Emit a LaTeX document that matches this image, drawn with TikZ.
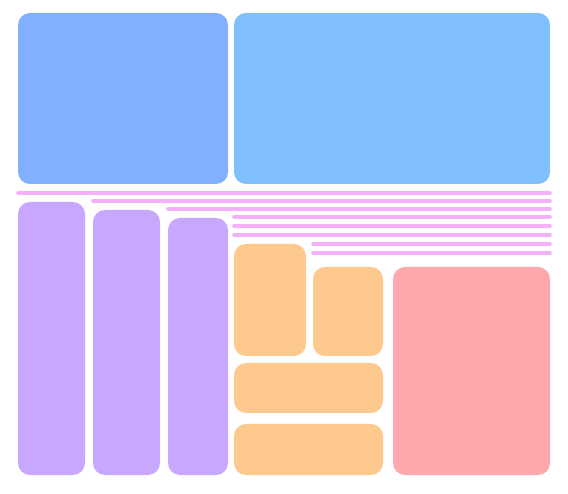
\documentclass[tikz,border=0pt]{standalone}
\definecolor{blueA}{HTML}{80B0FF}
\definecolor{blueB}{HTML}{80C0FF}
\definecolor{purp}{HTML}{C8A8FF}
\definecolor{orng}{HTML}{FDC98C}
\definecolor{redb}{HTML}{FDA8AC}
\definecolor{pinkl}{HTML}{F4B0F8}
\pgfdeclarelayer{shadowlayer}
\pgfsetlayers{shadowlayer,main}
\tikzset{
  tile/.style={rectangle, rounded corners=12pt, inner sep=0pt, outer sep=0pt, draw=none},
  bar/.style={draw=pinkl, line width=3.6pt, line cap=round},
  softshadow/.style={fill=black, opacity=0.014}
}
\begin{document}
\begin{tikzpicture}[x=1pt,y=-1pt]
\fill[white] (0,0) rectangle (568,494);
\useasboundingbox (0,0) rectangle (568,494);
\node[tile, fill=blueA, minimum width=210pt, minimum height=171pt] (b1) at (123,98.5) {};
\node[tile, fill=blueB, minimum width=316pt, minimum height=171pt] (b2) at (392,98.5) {};
\node[tile, fill=purp, minimum width=67pt, minimum height=273pt] (p1) at (51.5,338.5) {};
\node[tile, fill=purp, minimum width=67pt, minimum height=265pt] (p2) at (126.5,342.5) {};
\node[tile, fill=purp, minimum width=60pt, minimum height=257pt] (p3) at (198,346.5) {};
\node[tile, fill=orng, minimum width=72pt, minimum height=112pt] (oa) at (270,300) {};
\node[tile, fill=orng, minimum width=70pt, minimum height=89pt] (ob) at (348,311.5) {};
\node[tile, fill=orng, minimum width=149pt, minimum height=50pt] (oc) at (308.5,388) {};
\node[tile, fill=orng, minimum width=149pt, minimum height=51pt] (od) at (308.5,449.5) {};
\node[tile, fill=redb, minimum width=157pt, minimum height=208pt] (rd) at (471.5,371) {};
\begin{pgfonlayer}{shadowlayer}
\foreach \n in {b1,b2,p1,p2,p3,oa,ob,oc,od,rd} {
  \foreach \k in {1,...,9} {
    \fill[softshadow, rounded corners=12pt+\k pt]
      ([xshift=-\k pt, yshift=\k pt-3pt]\n.north west) rectangle ([xshift=\k pt, yshift=-\k pt-3pt]\n.south east);
  }
}
\end{pgfonlayer}
\coordinate (l1a) at (18,193);  \coordinate (l1b) at (550,193);
\coordinate (l2a) at (93,201);  \coordinate (l2b) at (550,201);
\coordinate (l3a) at (168,209); \coordinate (l3b) at (550,209);
\coordinate (l4a) at (234,217); \coordinate (l4b) at (550,217);
\coordinate (l5a) at (234,226); \coordinate (l5b) at (550,226);
\coordinate (l6a) at (234,235); \coordinate (l6b) at (550,235);
\coordinate (l7a) at (313,244); \coordinate (l7b) at (550,244);
\coordinate (l8a) at (313,253); \coordinate (l8b) at (550,253);
\foreach \i in {1,...,8} { \draw[bar] (l\i a) -- (l\i b); }
\end{tikzpicture}
\end{document}
